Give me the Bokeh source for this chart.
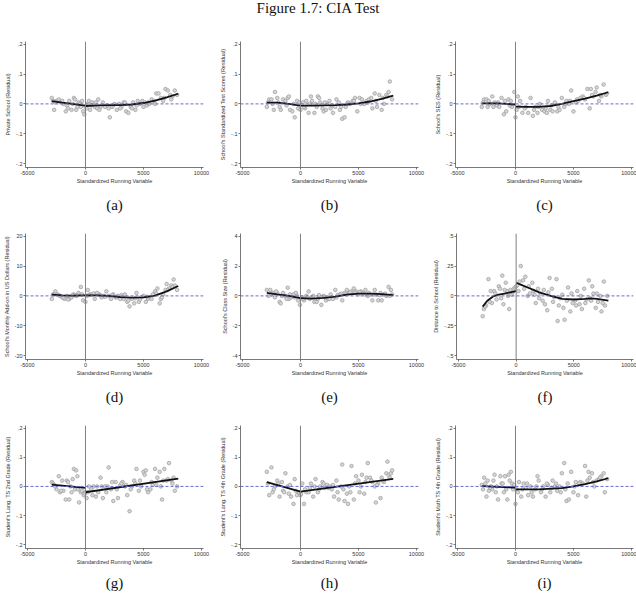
from bokeh.plotting import figure
from bokeh.models import FixedTicker, Span, Div
from bokeh.layouts import column, row
from bokeh.embed import file_html
from bokeh.resources import INLINE

TITLE = "Figure 1.7: CIA Test"
X_LABEL = "Standardized Running Variable"
X_TICKS = [-5000, 0, 5000, 10000]
X_TICK_LABELS = ["-5000", "0", "5000", "10000"]

# ---------------- (a) Private School ----------------
a_x = [-2900,-2700,-2500,-2300,-2100,-1900,-1700,-1600,-1400,-1200,-1000,-900,-800,-600,-400,-300,-200,-100,
       200,400,600,800,1000,1100,1300,1500,1700,1900,2100,2300,2500,2700,2900,3100,3300,3500,3700,3900,4100,4300,
       4500,4700,4900,5100,5300,5500,5700,5900,6100,6300,6500,6700,6900,7100,7300,7500,7700,7900,
       -2800,-2600,-2000,-1500,-1100,-700,-500,0,100,300,500,900,1200,2000,2400,3000,3400,4000,4400,5000,5400,6000,6800,7400]
a_y = [0.02,-0.02,0.01,0.015,0.005,0.0,-0.025,-0.005,0.01,-0.02,0.02,0.015,-0.02,0.005,-0.01,0.01,-0.025,-0.035,
       0.0,-0.02,0.005,-0.01,-0.015,0.015,-0.01,0.005,-0.01,-0.005,-0.045,-0.01,0.0,-0.02,0.0,-0.01,0.005,-0.025,-0.03,-0.01,0.005,-0.02,
       0.01,0.0,0.01,0.005,-0.005,0.0,0.015,0.01,0.035,0.035,0.02,0.01,0.05,0.045,0.03,0.025,0.045,0.03,
       0.01,0.005,0.01,-0.015,0.0,-0.01,0.0,-0.01,-0.015,0.01,-0.005,0.005,-0.02,-0.015,-0.005,-0.015,0.005,-0.015,-0.005,-0.01,0.005,0.0,0.02,0.015]
a_fit_l_x = [-2900, -2000, -1000, 0]
a_fit_l_y = [0.009, 0.004, -0.001, -0.006]
a_fit_r_x = [0, 1000, 2000, 3000, 4000, 5000, 6000, 7000, 8000]
a_fit_r_y = [-0.007, -0.005, -0.004, -0.004, -0.002, 0.003, 0.011, 0.022, 0.034]

# ---------------- (b) School's Standardized Test Scores ----------------
b_x = [-2900,-2700,-2500,-2300,-2200,-2000,-1800,-1700,-1500,-1300,-1100,-1000,-900,-700,-500,-300,-200,0,200,400,
       500,700,900,1000,1200,1300,1500,1600,1700,1900,2000,2200,2300,2500,2600,2800,3000,3100,3300,3400,
       3600,3800,3900,4100,4300,4500,4700,4900,5100,5300,5500,5700,5900,6100,6200,6400,6600,6800,7000,7200,7400,7600,7700,7900,
       -2800,-2400,-1900,-1200,-600,-100,300,800,1400,2100,2700,3500,4000,4600,5200,5800,6500,7100,7500]
b_y = [-0.01,0.015,0.015,-0.02,0.04,0.02,-0.01,-0.02,0.015,0.01,0.02,0.025,-0.02,-0.025,-0.045,0.01,-0.015,-0.02,0.005,-0.015,
       0.01,-0.03,0.025,0.01,-0.03,0.0,0.025,0.02,0.005,-0.015,-0.025,-0.02,0.0,0.01,-0.015,-0.03,-0.01,0.015,0.005,-0.02,
       -0.05,-0.045,-0.01,0.005,0.0,0.01,0.02,-0.025,0.02,0.015,0.0,0.01,0.015,0.02,-0.015,0.035,-0.01,0.03,-0.02,0.0,0.03,0.04,0.075,0.015,
       0.005,0.0,0.005,-0.005,0.0,0.005,-0.01,0.0,-0.01,0.005,-0.005,-0.01,0.0,0.01,0.0,0.005,0.01,0.02,0.025]
b_fit_l_x = [-2900, -2000, -1000, 0]
b_fit_l_y = [0.004, 0.004, 0.0, -0.006]
b_fit_r_x = [0, 1000, 2000, 3000, 4000, 5000, 6000, 7000, 8000]
b_fit_r_y = [-0.006, -0.006, -0.005, -0.004, -0.002, 0.002, 0.008, 0.017, 0.028]

# ---------------- (c) School's SES ----------------
c_x = [-2900,-2700,-2500,-2400,-2200,-2000,-1800,-1600,-1400,-1200,-1000,-800,-600,-400,-300,-100,0,100,200,400,
       600,900,1100,1300,1500,1700,1900,2100,2300,2500,2700,2800,3000,3200,3400,3600,3800,4000,4200,4400,
       4600,4800,5000,5200,5400,5600,5800,6000,6200,6400,6500,6700,6900,7000,7200,7400,7600,7800,7900,
       -2800,-2300,-1900,-1500,-900,-500,300,800,1600,2000,2600,3100,3700,4300,4700,5300,5900,6600,7300]
c_y = [-0.01,0.015,0.015,-0.01,0.0,0.025,0.005,-0.005,-0.01,0.02,-0.035,-0.025,0.015,0.01,-0.01,0.04,-0.045,-0.02,0.025,0.01,
       -0.03,-0.01,-0.03,0.02,-0.04,-0.01,-0.03,0.0,-0.02,-0.025,-0.03,0.01,-0.02,-0.025,0.005,-0.025,-0.02,0.02,-0.01,0.01,
       0.0,0.045,-0.025,0.005,0.01,0.02,0.025,0.015,0.05,-0.015,0.05,0.025,0.04,0.055,0.01,0.025,0.065,0.03,0.035,
       0.005,0.01,-0.01,0.005,0.01,-0.005,-0.01,-0.015,-0.02,-0.01,-0.015,-0.005,-0.01,0.0,0.01,0.015,0.02,0.03,0.03]
c_fit_l_x = [-2900, -1500, 0]
c_fit_l_y = [0.002, 0.002, -0.002]
c_fit_r_x = [0, 1000, 2000, 3000, 4000, 5000, 6000, 7000, 8000]
c_fit_r_y = [-0.009, -0.01, -0.01, -0.007, 0.0, 0.009, 0.018, 0.028, 0.039]

# ---------------- (d) School's Monthly Add-on ----------------
d_x = [-2900,-2800,-2600,-2400,-2200,-2000,-1800,-1600,-1400,-1200,-1000,-800,-600,-400,-200,0,100,200,400,600,
       800,1000,1200,1400,1600,1800,2000,2200,2400,2600,2800,3000,3200,3400,3600,3800,4000,4200,4400,4600,
       4800,5000,5200,5400,5600,5800,6000,6200,6400,6500,6700,6900,7000,7200,7400,7600,7700,7900,
       -2700,-2300,-1900,-1500,-1100,-700,-300,300,700,1300,1700,2300,2700,3100,3300,3700,4300,4700,5300,5700,6100,6600,7100,7500]
d_y = [-1,0.5,1.5,0.5,0,-0.5,-1,0,-1,-0.5,0.5,0,1,3,-1.5,-2,0,2,0.5,0.5,
       -1,1,0.5,-0.5,0,1.5,0,-1,0.5,-0.5,0,-1,-0.5,0.5,-2,-3.5,-1,-2.5,1,-2,
       -0.5,0,-2,-1,-0.5,0.5,1.5,2.5,-2.5,-1,0.5,2,4,2.5,3.5,5.5,3.5,2,
       0.5,0.2,-0.5,-1.2,0.3,0.2,0.5,0.3,0.8,0.2,-0.3,0.3,-0.5,0.3,-1.0,-1.5,-0.8,-1.2,-0.3,-1.0,0.8,-0.5,2.0,3.0]
d_fit_l_x = [-2900, -2000, -1000, 0]
d_fit_l_y = [0.4, 0.2, 0.1, 0.2]
d_fit_r_x = [0, 1000, 2000, 3000, 4000, 5000, 6000, 7000, 8000]
d_fit_r_y = [0.2, 0.2, 0.0, -0.4, -0.6, -0.5, 0.1, 1.5, 3.3]

# ---------------- (e) School's Class Size ----------------
e_x = [-2900,-2750,-2600,-2400,-2200,-2000,-1800,-1700,-1500,-1300,-1100,-1000,-800,-600,-400,-200,-50,100,300,500,
       700,800,1000,1200,1400,1600,1800,2000,2200,2400,2600,2800,3000,3200,3400,3600,3800,4000,4200,4400,
       4600,4800,5000,5200,5400,5600,5800,6000,6200,6400,6500,6700,6900,7000,7200,7400,7600,7800,7900,
       -2500,-2100,-1600,-1200,-900,-500,-300,200,600,1100,1500,2100,2500,3100,3500,3900,4300,4700,5100,5500,5900,6300,6800,7300,7700]
e_y = [0.4,0.0,0.4,0.2,-0.1,0.2,-0.4,-0.5,0.2,0.0,0.55,-0.2,-0.1,0.1,0.2,-0.3,-0.6,-0.1,-0.3,0.0,
       0.3,-0.2,-0.1,-0.4,-0.4,0.05,-0.6,0.0,-0.3,-0.2,0.1,-0.2,0.4,0.05,0.1,-0.3,0.2,0.4,0.2,0.3,
       0.5,0.3,0.1,0.3,0.2,0.4,0.0,0.1,-0.3,0.4,0.1,-0.3,0.2,-0.3,0.1,0.0,0.6,0.4,0.1,
       0.1,0.3,0.0,-0.2,0.1,-0.1,0.0,-0.2,-0.1,0.0,-0.2,-0.1,-0.2,-0.1,0.15,0.1,0.25,0.2,0.25,0.1,0.2,0.1,0.05,0.15,0.0]
e_fit_l_x = [-2900, -2000, -1000, 0]
e_fit_l_y = [0.2, 0.1, 0.0, -0.15]
e_fit_r_x = [0, 1000, 2000, 3000, 4000, 5000, 6000, 7000, 8000]
e_fit_r_y = [-0.15, -0.18, -0.13, -0.05, 0.08, 0.15, 0.15, 0.12, 0.05]

# ---------------- (f) Distance to School ----------------
f_x = [-2900,-2800,-2600,-2400,-2200,-2100,-1900,-1700,-1500,-1400,-1200,-1100,-900,-800,-600,-500,-400,-200,-100,0,
       100,200,400,600,800,1000,1200,1400,1500,1700,1900,2100,2300,2500,2700,2900,3100,3300,3500,3600,
       3800,4000,4200,4400,4500,4700,4900,5100,5300,5500,5700,5900,6100,6300,6400,6600,6700,6900,7100,7300,7400,7600,7700,7900,
       -2700,-2300,-1800,-1300,-1000,-700,-300,300,700,1100,1600,2000,2400,2800,3200,3700,4100,4800,5200,5600,6000,6500,7000,7500]
f_y = [-0.17,-0.11,-0.08,0.14,0.04,-0.06,0.04,-0.03,0.08,0.06,0.17,-0.07,0.11,0.04,-0.11,0.05,0.01,0.06,0.07,0.08,
       0.09,0.04,0.25,0.13,0.16,0.0,0.02,0.11,0.04,-0.06,0.06,0.02,-0.04,-0.07,-0.12,0.15,0.06,-0.01,0.14,-0.21,
       -0.02,0.01,-0.2,-0.04,0.07,-0.13,-0.06,-0.04,0.04,-0.07,-0.11,0.06,-0.03,0.13,-0.02,0.08,0.02,-0.1,-0.05,0.0,-0.13,0.12,-0.08,0.0,
       -0.09,-0.05,0.02,-0.02,0.05,0.0,0.03,0.12,0.06,0.08,0.01,-0.02,0.05,0.03,-0.05,-0.08,-0.1,0.02,-0.08,0.0,-0.06,-0.04,0.02,-0.06]
f_fit_l_x = [-2900, -2500, -2000, -1500, -1000, -500, 0]
f_fit_l_y = [-0.09, -0.04, -0.005, 0.01, 0.02, 0.03, 0.04]
f_fit_r_x = [0, 500, 1000, 1500, 2000, 3000, 4000, 5000, 6000, 6500, 7000, 8000]
f_fit_r_y = [0.11, 0.09, 0.07, 0.05, 0.03, 0.0, -0.025, -0.03, -0.025, -0.02, -0.025, -0.04]

# ---------------- (g) Student's Lang. TS 2nd Grade ----------------
g_x = [-2900,-2800,-2700,-2500,-2300,-2200,-2000,-1900,-1700,-1600,-1400,-1300,-1100,-1000,-900,-800,-700,-550,-400,-300,
       -150,0,100,300,500,700,900,1100,1300,1500,1700,1900,2000,2200,2400,2600,2800,3000,3200,3400,
       3600,3800,4000,4200,4400,4600,4800,5000,5100,5200,5400,5600,5800,6000,6200,6400,6500,6600,6800,7000,7200,7400,7600,7700,7900,
       -2600,-2100,-1500,-1200,-650,-50,200,600,1000,1400,1800,2300,2700,3100,3500,3900,4300,4700,5300,5700,6100,6700,7100,7500]
g_y = [0.015,0.01,0.005,-0.01,0.035,-0.02,0.02,-0.015,-0.045,0.02,-0.045,0.0,0.025,0.06,-0.01,0.055,0.035,-0.055,-0.02,-0.015,
       -0.03,-0.02,-0.04,0.0,-0.01,0.0,-0.035,-0.02,0.03,-0.04,0.0,0.0,0.065,-0.01,-0.05,0.015,-0.04,0.005,0.015,0.0,
       -0.03,-0.085,0.0,0.02,0.06,-0.015,0.0,0.05,0.04,0.055,-0.02,-0.01,0.005,0.06,0.03,0.05,0.0,-0.045,0.06,0.02,0.08,0.02,0.03,-0.015,0.0,
       0.0,-0.015,0.015,-0.02,-0.01,-0.025,-0.02,-0.03,0.0,0.0,-0.02,0.015,-0.01,0.01,0.005,-0.01,0.01,0.02,-0.01,0.015,0.005,0.02,0.025,0.01]
g_fit_l_x = [-2900, 0]
g_fit_l_y = [0.006, -0.005]
g_fit_r_x = [0, 8000]
g_fit_r_y = [-0.02, 0.027]

# ---------------- (h) Student's Lang. TS 4th Grade ----------------
h_x = [-2900,-2700,-2500,-2400,-2200,-2000,-1800,-1600,-1500,-1300,-1100,-1000,-800,-600,-500,-300,-150,0,150,300,
       500,700,900,1100,1300,1500,1700,1900,2100,2300,2500,2700,2900,3100,3300,3500,3600,3800,4000,4100,
       4300,4400,4600,4800,5000,5100,5300,5500,5700,5800,6000,6200,6400,6500,6700,6900,7000,7200,7400,7500,7600,7800,7900,
       -2800,-2300,-1900,-1400,-900,-400,50,400,800,1200,1600,2000,2400,2800,3200,3700,4200,4700,5200,5600,6100,6600,7100,7700]
h_y = [0.05,-0.03,0.065,-0.02,0.0,0.02,-0.035,0.015,-0.015,0.045,0.0,-0.025,-0.035,-0.06,0.025,-0.03,-0.02,-0.03,0.01,-0.06,
       -0.02,-0.02,0.01,-0.035,0.025,-0.02,0.0,0.015,-0.005,0.005,0.0,-0.01,-0.035,0.02,-0.045,0.0,0.075,-0.05,-0.025,-0.06,
       -0.02,0.07,-0.045,0.035,0.02,-0.02,0.04,-0.025,0.03,0.08,0.03,0.015,0.0,-0.055,0.01,-0.04,0.03,0.015,0.045,0.085,0.04,0.045,0.055,
       0.01,-0.01,0.01,-0.02,0.005,-0.015,-0.025,-0.01,-0.005,0.0,-0.01,0.01,-0.005,0.005,-0.02,-0.01,0.0,0.01,0.0,0.015,0.02,0.005,0.02,0.03]
h_fit_l_x = [-2900, 0]
h_fit_l_y = [0.015, -0.018]
h_fit_r_x = [0, 8000]
h_fit_r_y = [-0.018, 0.026]

# ---------------- (i) Student's Math TS 4th Grade ----------------
i_x = [-2900,-2800,-2700,-2500,-2400,-2300,-2100,-2000,-1800,-1700,-1500,-1300,-1200,-1000,-900,-700,-600,-400,-300,-100,
       0,100,300,500,700,900,1100,1300,1500,1700,1900,2000,2200,2400,2600,2800,3000,3200,3400,3600,
       3800,4000,4200,4300,4400,4600,4800,5000,5200,5400,5600,5800,6000,6100,6300,6400,6600,6800,7000,7200,7400,7600,7700,7900,
       -2600,-2200,-1900,-1600,-1100,-800,-500,-200,200,600,1000,1400,1800,2300,2700,3100,3500,3900,4500,5100,5500,6200,6700,7300]
i_y = [0.005,-0.01,0.03,-0.035,0.02,-0.015,0.0,-0.01,0.04,-0.02,-0.045,0.035,0.01,-0.02,0.035,-0.045,0.04,0.05,0.01,0.005,
       -0.06,-0.01,0.015,-0.035,0.01,-0.005,-0.03,0.0,-0.035,-0.01,0.035,0.02,-0.02,0.0,-0.035,0.005,-0.02,0.02,0.0,-0.015,
       0.0,0.045,0.08,-0.01,-0.05,-0.045,0.05,-0.02,0.015,-0.03,0.015,0.01,0.07,-0.035,0.05,0.03,0.045,0.0,0.02,0.025,0.035,0.045,-0.02,0.025,
       0.01,-0.005,0.02,0.0,0.01,-0.01,0.02,-0.01,-0.02,-0.01,0.01,-0.02,0.0,-0.01,0.01,-0.005,0.01,-0.02,0.01,0.0,0.01,0.02,0.015,0.03]
i_fit_l_x = [-2900, 0]
i_fit_l_y = [0.001, -0.004]
i_fit_r_x = [0, 2000, 4000, 5000, 6000, 7000, 8000]
i_fit_r_y = [-0.01, -0.01, -0.006, 0.0, 0.008, 0.017, 0.028]

TICKS_02 = [-0.2, -0.1, 0, 0.1, 0.2]
TICKS_02_LABELS = ["-.2", "-.1", "0", ".1", ".2"]
TICKS_20 = [-20, -10, 0, 10, 20]
TICKS_20_LABELS = ["-20", "-10", "0", "10", "20"]
TICKS_4 = [-4, -2, 0, 2, 4]
TICKS_4_LABELS = ["-4", "-2", "0", "2", "4"]
TICKS_05 = [-0.5, -0.25, 0, 0.25, 0.5]
TICKS_05_LABELS = ["-.5", "-.25", "0", ".25", ".5"]

PANELS = [
    ("(a)", "Private School (Residual)", TICKS_02, TICKS_02_LABELS, a_x, a_y, a_fit_l_x, a_fit_l_y, a_fit_r_x, a_fit_r_y),
    ("(b)", "School's Standardized Test Scores (Residual)", TICKS_02, TICKS_02_LABELS, b_x, b_y, b_fit_l_x, b_fit_l_y, b_fit_r_x, b_fit_r_y),
    ("(c)", "School's SES (Residual)", TICKS_02, TICKS_02_LABELS, c_x, c_y, c_fit_l_x, c_fit_l_y, c_fit_r_x, c_fit_r_y),
    ("(d)", "School's Monthly Add-on in US Dollars (Residual)", TICKS_20, TICKS_20_LABELS, d_x, d_y, d_fit_l_x, d_fit_l_y, d_fit_r_x, d_fit_r_y),
    ("(e)", "School's Class Size (Residual)", TICKS_4, TICKS_4_LABELS, e_x, e_y, e_fit_l_x, e_fit_l_y, e_fit_r_x, e_fit_r_y),
    ("(f)", "Distance to School (Residual)", TICKS_05, TICKS_05_LABELS, f_x, f_y, f_fit_l_x, f_fit_l_y, f_fit_r_x, f_fit_r_y),
    ("(g)", "Student's Lang. TS 2nd Grade (Residual)", TICKS_02, TICKS_02_LABELS, g_x, g_y, g_fit_l_x, g_fit_l_y, g_fit_r_x, g_fit_r_y),
    ("(h)", "Student's Lang. TS 4th Grade (Residual)", TICKS_02, TICKS_02_LABELS, h_x, h_y, h_fit_l_x, h_fit_l_y, h_fit_r_x, h_fit_r_y),
    ("(i)", "Student's Math TS 4th Grade (Residual)", TICKS_02, TICKS_02_LABELS, i_x, i_y, i_fit_l_x, i_fit_l_y, i_fit_r_x, i_fit_r_y),
]

SANS = "Liberation Sans"
SERIF = "Liberation Serif"
COL_W = [215, 215, 206]
ROW_H = [192, 192, 180]
TITLE_STANDOFF = [16, 16, 10]
FRAME_W = 178
FRAME_H = 126
BORDER_L = 25
BORDER_T = 10
X0, X1 = -5170, 10175


def make_panel(k, spec):
    tag, ylab, yt, ytl, xs, ys, lx, ly, rx, ry = spec
    col, rw = k % 3, k // 3
    W, H = COL_W[col], ROW_H[rw]
    M = max(yt)
    y0, y1 = -1.065 * M, 1.045 * M
    p = figure(width=W, height=H, x_range=(X0, X1), y_range=(y0, y1),
               output_backend="svg", toolbar_location=None, title=tag, title_location="below",
               min_border_left=BORDER_L, min_border_right=W - BORDER_L - FRAME_W,
               min_border_top=BORDER_T, min_border_bottom=H - BORDER_T - FRAME_H)
    p.outline_line_color = None
    p.grid.visible = False
    p.background_fill_color = "white"
    p.border_fill_color = "white"

    p.title.align = "center"
    p.title.text_font = SERIF
    p.title.text_font_size = "15px"
    p.title.text_font_style = "normal"
    p.title.text_color = "#111111"
    p.title.standoff = TITLE_STANDOFF[rw]

    for ax in (p.xaxis, p.yaxis):
        ax.axis_line_color = "#555555"
        ax.axis_line_width = 0.8
        ax.major_tick_line_color = "#555555"
        ax.major_tick_line_width = 0.8
        ax.major_tick_out = 2
        ax.major_tick_in = 0
        ax.minor_tick_line_color = None
        ax.major_label_text_font = SANS
        ax.major_label_text_font_size = "5.5px"
        ax.major_label_text_color = "#333333"
        ax.major_label_standoff = 1
        ax.axis_label_text_font = SANS
        ax.axis_label_text_font_size = "5.5px"
        ax.axis_label_text_font_style = "normal"
        ax.axis_label_text_color = "#333333"
        ax.axis_label_standoff = 0

    p.xaxis.ticker = FixedTicker(ticks=X_TICKS)
    p.xaxis.major_label_overrides = dict(zip(X_TICKS, X_TICK_LABELS))
    p.xaxis.axis_label = X_LABEL
    p.yaxis.ticker = FixedTicker(ticks=yt)
    p.yaxis.major_label_overrides = dict(zip(yt, ytl))
    p.yaxis.major_label_orientation = "horizontal"
    p.yaxis.axis_label = ylab
    p.yaxis.axis_label_standoff = 2

    p.add_layout(Span(location=0, dimension="height", line_color="#808080", line_width=1))
    p.add_layout(Span(location=0, dimension="width", line_color="#6a6ad2", line_width=1, line_dash="3 2"))

    p.scatter(xs, ys, size=3.6, marker="circle", fill_color="#d6d6d6", line_color="#999999", line_width=0.7)
    p.line(lx, ly, line_color="#111111", line_width=1.8)
    p.line(rx, ry, line_color="#111111", line_width=1.8)
    return p


plots = [make_panel(k, s) for k, s in enumerate(PANELS)]

title = Div(text=TITLE, width=636, height=31, margin=(0, 0, 0, 0),
            styles={"font-family": SERIF, "font-size": "15px", "text-align": "center",
                    "color": "#111111", "width": "636px", "line-height": "17px"})

layout = column(title,
                row(plots[0], plots[1], plots[2]),
                row(plots[3], plots[4], plots[5]),
                row(plots[6], plots[7], plots[8]))

open("out.html", "w").write(file_html(layout, INLINE))
